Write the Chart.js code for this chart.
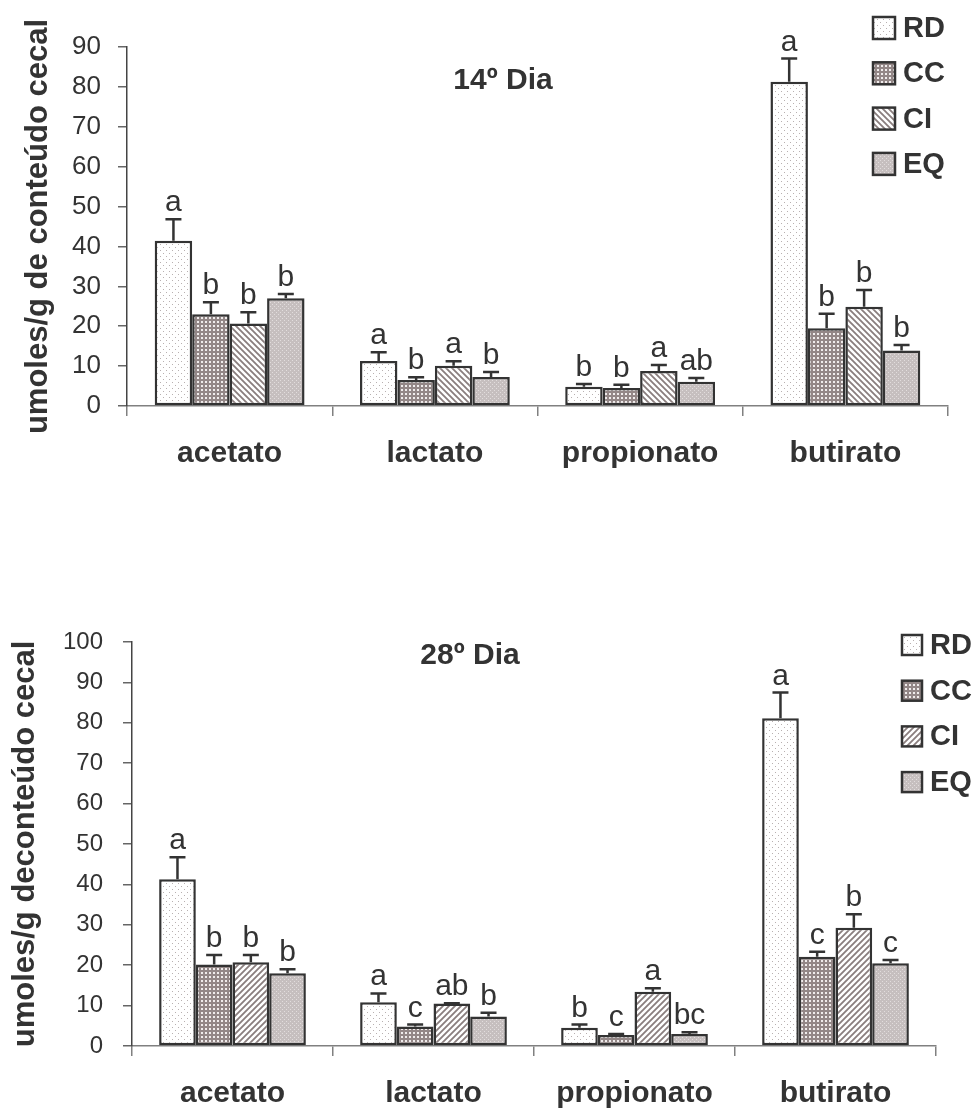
<!DOCTYPE html>
<html>
<head>
<meta charset="utf-8">
<script src="https://cdn.jsdelivr.net/npm/chart.js@4.4.0/dist/chart.umd.min.js"></script>
<style>
  body { margin: 0; background: #fff; }
  canvas { display: block; }
</style>
</head>
<body>
<canvas id="grafico14" width="974" height="555"></canvas>
<canvas id="grafico28" width="974" height="556"></canvas>
<script>
const categorias = ['acetato', 'lactato', 'propionato', 'butirato'];
const tratamentos = ['RD', 'CC', 'CI', 'EQ'];

// 14º dia - médias
const rd14 = [41.4, 11.3, 4.8, 81.3];
const cc14 = [23.0, 6.5, 4.5, 19.5];
const ci14 = [20.7, 10.1, 8.8, 24.9];
const eq14 = [27.0, 7.3, 6.1, 13.9];
// 14º dia - erro padrão
const rd14Erro = [5.4, 2.2, 0.7, 5.8];
const cc14Erro = [3.0, 0.7, 0.8, 3.6];
const ci14Erro = [2.8, 1.1, 1.5, 4.2];
const eq14Erro = [1.1, 1.2, 0.9, 1.4];
// 14º dia - letras
const rd14Letras = ['a', 'a', 'b', 'a'];
const cc14Letras = ['b', 'b', 'b', 'b'];
const ci14Letras = ['b', 'a', 'a', 'b'];
const eq14Letras = ['b', 'b', 'ab', 'b'];

// 28º dia - médias
const rd28 = [41.3, 10.8, 4.5, 81.1];
const cc28 = [20.2, 4.8, 2.7, 22.1];
const ci28 = [20.7, 10.5, 13.4, 29.3];
const eq28 = [18.0, 7.3, 3.0, 20.5];
// 28º dia - erro padrão
const rd28Erro = [5.4, 2.2, 0.8, 6.4];
const cc28Erro = [2.3, 0.5, 0.3, 1.2];
const ci28Erro = [1.8, 0.1, 0.9, 3.3];
const eq28Erro = [1.0, 0.9, 0.4, 0.8];
// 28º dia - letras
const rd28Letras = ['a', 'a', 'b', 'a'];
const cc28Letras = ['b', 'c', 'c', 'c'];
const ci28Letras = ['b', 'ab', 'a', 'b'];
const eq28Letras = ['b', 'b', 'bc', 'c'];

const FONTE = '"Liberation Sans", Arial, sans-serif';
Chart.defaults.font.family = FONTE;
Chart.defaults.color = '#333';

// Padrões de preenchimento das barras
function criarPadrao(tipo) {
  const c = document.createElement('canvas');
  const g = c.getContext('2d');
  if (tipo === 'pontos') {
    c.width = c.height = 6;
    g.fillStyle = '#fff'; g.fillRect(0, 0, 6, 6);
    g.fillStyle = '#b8b0b0';
    g.fillRect(1, 1, 1, 1); g.fillRect(4, 4, 1, 1);
  } else if (tipo === 'xadrez') {
    c.width = c.height = 4;
    g.fillStyle = '#938787'; g.fillRect(0, 0, 4, 4);
    g.fillStyle = '#f0ecec'; g.fillRect(1, 1, 2, 2);
  } else if (tipo === 'diagDesce' || tipo === 'diagSobe') {
    c.width = c.height = 6;
    g.fillStyle = '#fff'; g.fillRect(0, 0, 6, 6);
    g.strokeStyle = '#8a7e7e'; g.lineWidth = 1.8;
    g.beginPath();
    if (tipo === 'diagDesce') {
      g.moveTo(-1, -1); g.lineTo(7, 7);
      g.moveTo(-1, 5); g.lineTo(1, 7);
      g.moveTo(5, -1); g.lineTo(7, 1);
    } else {
      g.moveTo(-1, 7); g.lineTo(7, -1);
      g.moveTo(-1, 1); g.lineTo(1, -1);
      g.moveTo(5, 7); g.lineTo(7, 5);
    }
    g.stroke();
  } else {
    c.width = c.height = 4;
    g.fillStyle = '#c6bfbf'; g.fillRect(0, 0, 4, 4);
    g.fillStyle = '#e2dddd';
    g.fillRect(0, 0, 1, 1); g.fillRect(2, 2, 1, 1);
  }
  return g.createPattern(c, 'repeat');
}

// Barras de erro, letras, título e legenda
const rotulosPlugin = {
  id: 'rotulos',
  afterDatasetsDraw(chart, args, opts) {
    const ctx = chart.ctx;
    const y = chart.scales.y;
    ctx.save();
    chart.data.datasets.forEach((ds, i) => {
      const meta = chart.getDatasetMeta(i);
      meta.data.forEach((bar, j) => {
        const topo = y.getPixelForValue(ds.data[j] + ds.erro[j]);
        ctx.strokeStyle = '#333';
        ctx.lineWidth = 2.5;
        ctx.beginPath();
        ctx.moveTo(bar.x, bar.y);
        ctx.lineTo(bar.x, topo);
        ctx.moveTo(bar.x - 8, topo);
        ctx.lineTo(bar.x + 8, topo);
        ctx.stroke();
        ctx.fillStyle = '#333';
        ctx.font = '30px ' + FONTE;
        ctx.textAlign = 'center';
        ctx.textBaseline = 'alphabetic';
        ctx.fillText(ds.letras[j], bar.x, topo - 8);
      });
    });

    ctx.font = 'bold 30px ' + FONTE;
    ctx.textAlign = 'center';
    ctx.textBaseline = 'middle';
    ctx.fillText(opts.titulo, opts.tituloX, opts.tituloY);

    const L = opts.legenda;
    chart.data.datasets.forEach((ds, i) => {
      const cy = L.y + i * L.passo;
      ctx.fillStyle = ds.backgroundColor;
      ctx.fillRect(L.x, cy - L.caixa / 2, L.caixa, L.caixa);
      ctx.strokeStyle = '#333';
      ctx.lineWidth = 2.5;
      ctx.strokeRect(L.x, cy - L.caixa / 2, L.caixa, L.caixa);
      ctx.fillStyle = '#333';
      ctx.font = 'bold 29px ' + FONTE;
      ctx.textAlign = 'left';
      ctx.textBaseline = 'middle';
      ctx.fillText(ds.label, L.texto, cy + 1);
    });
    ctx.restore();
  }
};

function criarGrafico(id, series, erros, letras, padroes, cfg) {
  const canvas = document.getElementById(id);
  const ctx = canvas.getContext('2d');
  const H = canvas.height;
  new Chart(ctx, {
    type: 'bar',
    data: {
      labels: categorias,
      datasets: tratamentos.map((t, i) => ({
        label: t,
        data: series[i],
        erro: erros[i],
        letras: letras[i],
        backgroundColor: criarPadrao(padroes[i]),
        borderColor: '#333',
        borderWidth: 2.5,
        borderSkipped: false,
        barPercentage: 1,
        categoryPercentage: 0.73
      }))
    },
    options: {
      responsive: false,
      animation: false,
      events: [],
      layout: { padding: { left: 0, top: cfg.topo, right: 974 - cfg.direita, bottom: 0 } },
      plugins: {
        legend: { display: false },
        tooltip: { enabled: false },
        rotulos: cfg.rotulos
      },
      scales: {
        x: {
          offset: true,
          grid: { display: true, drawOnChartArea: false, drawTicks: true, tickLength: 10, offset: true, color: '#808080', lineWidth: 1.5 },
          border: { color: '#808080', width: 1.5 },
          ticks: { font: { size: 30, weight: 'bold' }, color: '#333', padding: 20, maxRotation: 0 },
          afterFit: s => { s.height = H - cfg.base; }
        },
        y: {
          min: 0,
          max: cfg.yMax,
          ticks: { stepSize: 10, font: { size: cfg.tamTick }, color: '#333', padding: cfg.padTick },
          grid: { drawOnChartArea: false, drawTicks: true, tickLength: 9, color: '#666', lineWidth: 1.5 },
          border: { color: '#444', width: 1.5 },
          title: { display: true, text: cfg.tituloY, font: { size: 31, weight: 'bold' }, color: '#333', padding: { top: cfg.padTitulo, bottom: 0 } },
          afterFit: s => { s.width = cfg.esquerda; }
        }
      }
    },
    plugins: [rotulosPlugin]
  });
}

criarGrafico('grafico14',
  [rd14, cc14, ci14, eq14],
  [rd14Erro, cc14Erro, ci14Erro, eq14Erro],
  [rd14Letras, cc14Letras, ci14Letras, eq14Letras],
  ['pontos', 'xadrez', 'diagDesce', 'grao'],
  {
    esquerda: 127, direita: 948, topo: 47, base: 406, yMax: 90,
    tamTick: 26, padTick: 17, padTitulo: 20,
    tituloY: 'umoles/g de conteúdo cecal',
    rotulos: {
      titulo: '14º Dia', tituloX: 503, tituloY: 81,
      legenda: { x: 873, y: 28, passo: 45.3, caixa: 22, texto: 903 }
    }
  });

criarGrafico('grafico28',
  [rd28, cc28, ci28, eq28],
  [rd28Erro, cc28Erro, ci28Erro, eq28Erro],
  [rd28Letras, cc28Letras, ci28Letras, eq28Letras],
  ['pontos', 'xadrez', 'diagSobe', 'grao'],
  {
    esquerda: 132, direita: 936, topo: 87, base: 491, yMax: 100,
    tamTick: 24, padTick: 20, padTitulo: 7,
    tituloY: 'umoles/g deconteúdo cecal',
    rotulos: {
      titulo: '28º Dia', tituloX: 470, tituloY: 101,
      legenda: { x: 902, y: 90, passo: 45.7, caixa: 20, texto: 930 }
    }
  });
</script>
</body>
</html>
